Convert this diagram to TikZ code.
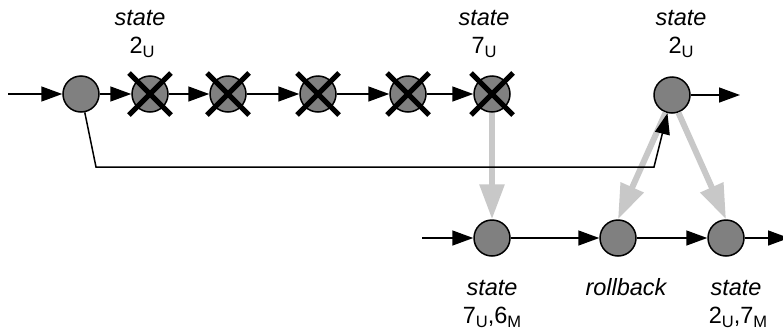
\documentclass[tikz,border=0pt]{standalone}
\usepackage{fontspec}
\setmainfont{Liberation Sans}
\usetikzlibrary{arrows.meta}
\newcommand\mysub[1]{\raisebox{-4.5pt}{\fontsize{16.5}{16.5}\selectfont #1}}
\definecolor{nodegray}{RGB}{128,128,128}
\definecolor{lightgr}{RGB}{200,200,200}
\tikzset{
  st/.style={circle,draw=black,line width=1.5pt,fill=nodegray,minimum size=36pt,inner sep=0pt},
  lbl/.style={inner sep=0pt,anchor=base,font=\fontsize{23.5}{28}\selectfont},
  flow/.style={line width=1.5pt,-{Triangle[length=21pt,width=15pt]}},
  grey/.style={line width=6pt,draw=lightgr,-{Triangle[length=35pt,width=24pt]}},
  crossln/.style={line width=5pt,black}
}
\begin{document}
\begin{tikzpicture}[x=1pt,y=-1pt]
\useasboundingbox (0,0) rectangle (783,335);
% top row
\node[st] (n1) at (81,94) {};
\node[st] (x1) at (150,94) {};
\node[st] (x2) at (228,94) {};
\node[st] (x3) at (318,94) {};
\node[st] (x4) at (408,94) {};
\node[st] (x5) at (492,94) {};
\node[st] (tn) at (672,95) {};
% bottom row
\node[st] (b1) at (492,238) {};
\node[st] (rb) at (618,238) {};
\node[st] (br) at (726,238) {};
% free ends
\coordinate (tin) at (8,94);
\coordinate (tout) at (740,95);
\coordinate (bin) at (422,238);
\coordinate (bout) at (789,238);
\coordinate (c1) at (96,167);
\coordinate (c2) at (654,167);
% grey arrows
\draw[grey] (x5.south) -- (b1.north);
\draw[grey] (tn.250) -- (rb.north);
\draw[grey] (tn.290) -- (br.north);
% black flow
\draw[flow] (tin) -- (n1);
\draw[flow] (n1) -- (x1);
\draw[flow] (x1) -- (x2);
\draw[flow] (x2) -- (x3);
\draw[flow] (x3) -- (x4);
\draw[flow] (x4) -- (x5);
\draw[flow] (tn) -- (tout);
\draw[flow] (bin) -- (b1);
\draw[flow] (b1) -- (rb);
\draw[flow] (rb) -- (br);
\draw[flow] (br) -- (bout);
\draw[flow] (n1) -- (c1) -- (c2) -- (tn);
% crosses
\foreach \n in {x1,x2,x3,x4,x5}{
  \draw[crossln] ([shift={(-21pt,21pt)}]\n.center) -- ([shift={(21pt,-21pt)}]\n.center);
  \draw[crossln] ([shift={(-21pt,-21pt)}]\n.center) -- ([shift={(21pt,21pt)}]\n.center);
}
% labels
\node[lbl] (l1a) at (140,25) {\itshape state};
\node[lbl] (l1b) at (142,53) {2\mysub{U}};
\node[lbl] (l2a) at (484,25) {\itshape state};
\node[lbl] (l2b) at (484,53) {7\mysub{U}};
\node[lbl] (l3a) at (681,25) {\itshape state};
\node[lbl] (l3b) at (681,53) {2\mysub{U}};
\node[lbl] (l4a) at (492,295) {\itshape state};
\node[lbl] (l4b) at (492,323) {7\mysub{U},6\mysub{M}};
\node[lbl] (l5a) at (626,295) {\itshape rollback};
\node[lbl] (l6a) at (736,295) {\itshape state};
\node[lbl] (l6b) at (738,323) {2\mysub{U},7\mysub{M}};
\end{tikzpicture}
\end{document}
